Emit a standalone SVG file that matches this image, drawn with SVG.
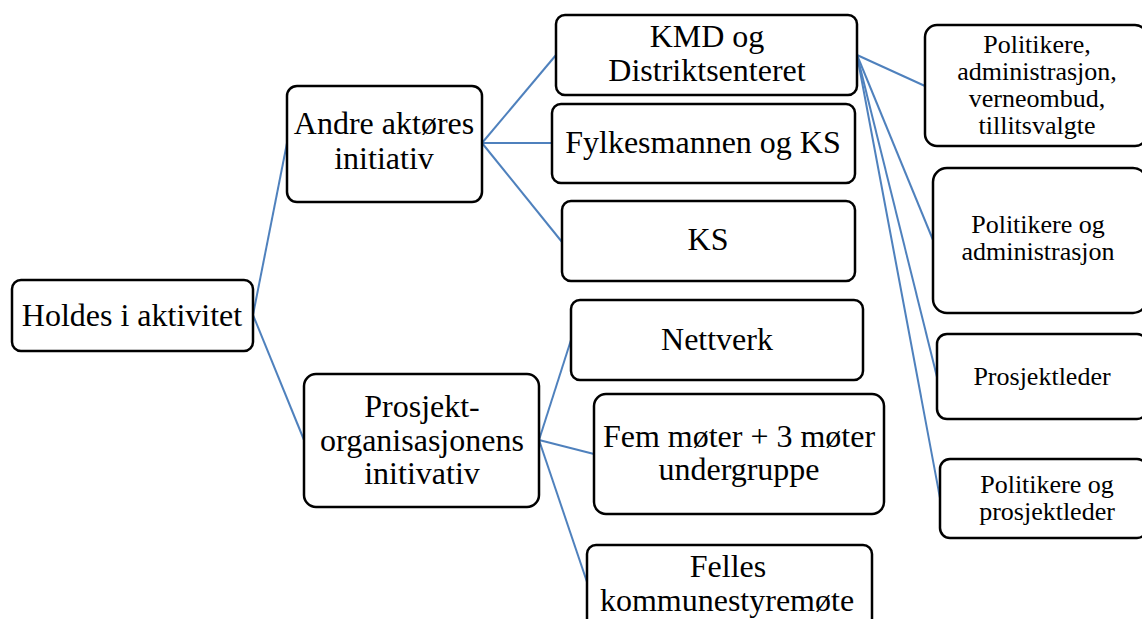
<svg xmlns="http://www.w3.org/2000/svg" width="1142" height="619" viewBox="0 0 1142 619">
<style>
.box{fill:#fff;stroke:#000;stroke-width:2.5}
.t{font-family:'Liberation Serif','Times New Roman',serif;font-size:32px;fill:#000;text-anchor:middle}
.s{font-family:'Liberation Serif','Times New Roman',serif;font-size:26px;fill:#000;text-anchor:middle}
.c{stroke:#4f81bd;stroke-width:2;fill:none}
</style>
<rect width="1142" height="619" fill="#fff"/>
<g id="connectors">
<line class="c" x1="253" y1="315" x2="287" y2="143"/>
<line class="c" x1="253" y1="315" x2="304" y2="440"/>
<line class="c" x1="482" y1="143" x2="556" y2="55"/>
<line class="c" x1="482" y1="143" x2="552" y2="143"/>
<line class="c" x1="482" y1="143" x2="562" y2="242"/>
<line class="c" x1="539" y1="440" x2="571" y2="340"/>
<line class="c" x1="539" y1="440" x2="594" y2="454"/>
<line class="c" x1="539" y1="440" x2="587" y2="582"/>
<line class="c" x1="857" y1="55" x2="925" y2="86"/>
<line class="c" x1="857" y1="55" x2="933" y2="240"/>
<line class="c" x1="857" y1="55" x2="937" y2="377"/>
<line class="c" x1="857" y1="55" x2="940" y2="498"/>
</g>
<g id="n-holdes"><rect class="box" x="12" y="280" width="241" height="71" rx="9"/><text class="t" x="132" y="326">Holdes i aktivitet</text></g>
<g id="n-andre"><rect class="box" x="287" y="86" width="195" height="116" rx="10"/><text class="t" x="384" y="134">Andre aktøres</text><text class="t" x="384" y="169">initiativ</text></g>
<g id="n-prosjekt"><rect class="box" x="304" y="374" width="235" height="133" rx="12"/><text class="t" x="422" y="417">Prosjekt-</text><text class="t" x="422" y="451">organisasjonens</text><text class="t" x="422" y="484">initivativ</text></g>
<g id="n-kmd"><rect class="box" x="556" y="15" width="301" height="80" rx="9"/><text class="t" x="707" y="47">KMD og</text><text class="t" x="707" y="81">Distriktsenteret</text></g>
<g id="n-fylkes"><rect class="box" x="552" y="104" width="303" height="79" rx="9"/><text class="t" x="703" y="153">Fylkesmannen og KS</text></g>
<g id="n-ks"><rect class="box" x="562" y="201" width="293" height="80" rx="9"/><text class="t" x="708" y="250">KS</text></g>
<g id="n-nettverk"><rect class="box" x="571" y="300" width="292" height="80" rx="9"/><text class="t" x="717" y="350">Nettverk</text></g>
<g id="n-fem"><rect class="box" x="594" y="394" width="290" height="120" rx="12"/><text class="t" x="739" y="447">Fem møter + 3 møter</text><text class="t" x="739" y="480">undergruppe</text></g>
<g id="n-felles"><rect class="box" x="587" y="545" width="285" height="90" rx="9"/><text class="t" x="728" y="577">Felles</text><text class="t" x="727" y="611">kommunestyremøte</text></g>
<g id="n-pol1"><rect class="box" x="925" y="25" width="222" height="121" rx="12"/><text class="s" x="1037" y="53">Politikere,</text><text class="s" x="1037" y="80">administrasjon,</text><text class="s" x="1037" y="107">verneombud,</text><text class="s" x="1037" y="134">tillitsvalgte</text></g>
<g id="n-pol2"><rect class="box" x="933" y="168" width="214" height="145" rx="14"/><text class="s" x="1038" y="233">Politikere og</text><text class="s" x="1038" y="260">administrasjon</text></g>
<g id="n-pl"><rect class="box" x="937" y="334" width="210" height="85" rx="10"/><text class="s" x="1042" y="385">Prosjektleder</text></g>
<g id="n-pol3"><rect class="box" x="940" y="459" width="207" height="79" rx="10"/><text class="s" x="1047" y="493">Politikere og</text><text class="s" x="1047" y="520">prosjektleder</text></g>
</svg>
